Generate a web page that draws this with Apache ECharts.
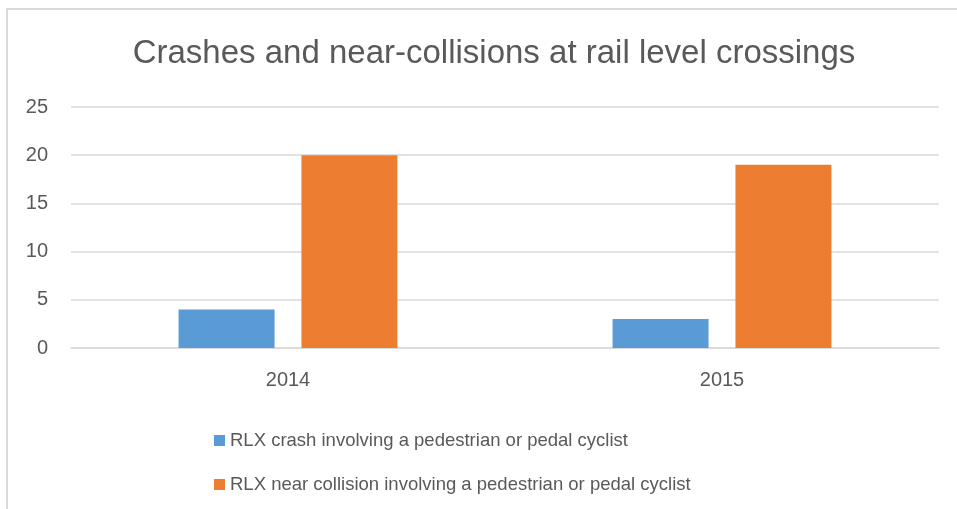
<!DOCTYPE html>
<html>
<head>
<meta charset="utf-8">
<script src="https://cdn.jsdelivr.net/npm/echarts@6/dist/echarts.min.js"></script>
<style>
  html, body { margin: 0; padding: 0; background: #fff; }
  #main { width: 957px; height: 509px; }
  #frame { position: absolute; left: 6px; top: 8px; width: 960px; height: 510px;
           border-left: 2px solid #d9d9d9; border-top: 2px solid #d9d9d9; }
</style>
</head>
<body>
<div id="frame"></div>
<div id="main" style="position:absolute;left:0;top:0;"></div>
<script>
var years = ['2014', '2015'];
var crashValues = [4, 3];
var nearValues = [20, 19];
var seriesNames = [
    'RLX crash involving a pedestrian or pedal cyclist',
    'RLX near collision involving a pedestrian or pedal cyclist'
];

var chart = echarts.init(document.getElementById('main'));
var font = '"Liberation Sans", "DejaVu Sans", sans-serif';

chart.setOption({
    animation: false,
    title: {
        text: 'Crashes and near-collisions at rail level crossings',
        left: 489,
        top: 32,
        textAlign: 'center',
        textStyle: { color: '#595959', fontSize: 33, fontWeight: 'normal', fontFamily: font }
    },
    legend: {
        orient: 'vertical',
        left: 209,
        top: 426,
        itemGap: 25,
        itemWidth: 11,
        itemHeight: 11,
        icon: 'rect',
        textStyle: { color: '#595959', fontSize: 18.5, fontFamily: font },
        data: seriesNames
    },
    grid: { left: 71, right: 18, top: 107, bottom: 161 },
    xAxis: {
        type: 'category',
        data: years,
        axisLine: { lineStyle: { color: '#d9d9d9', width: 1.5 } },
        axisTick: { show: false },
        axisLabel: { color: '#595959', fontSize: 20, fontFamily: font, margin: 22 }
    },
    yAxis: {
        type: 'value',
        min: 0,
        max: 25,
        interval: 5,
        axisLine: { show: false },
        axisTick: { show: false },
        splitLine: { lineStyle: { color: '#d9d9d9', width: 1.5 } },
        axisLabel: { color: '#595959', fontSize: 20, fontFamily: font, margin: 23 }
    },
    series: [
        {
            name: seriesNames[0],
            type: 'bar',
            data: crashValues,
            barWidth: 96,
            barGap: '28%',
            itemStyle: { color: '#5b9bd5' }
        },
        {
            name: seriesNames[1],
            type: 'bar',
            data: nearValues,
            barWidth: 96,
            itemStyle: { color: '#ed7d31' }
        }
    ]
});
</script>
</body>
</html>
